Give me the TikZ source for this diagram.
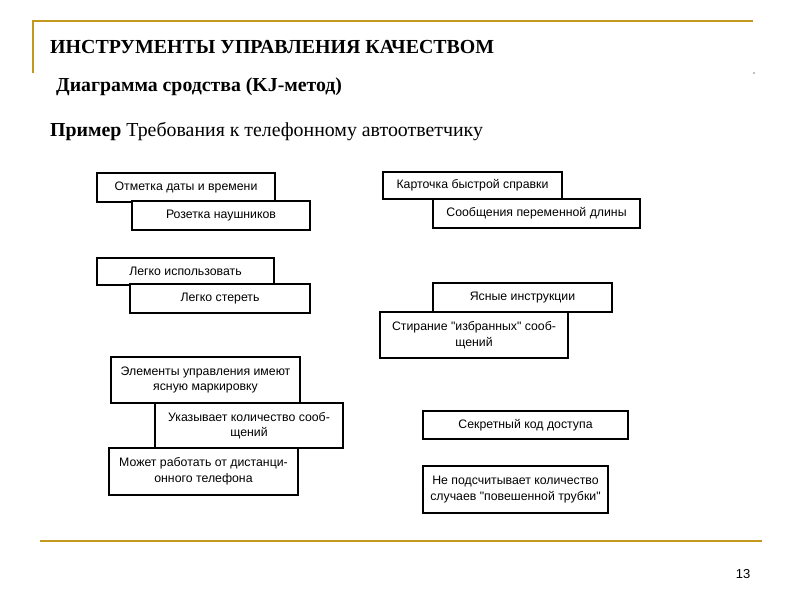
\documentclass[tikz,border=0pt]{standalone}
\usepackage{fontspec}
\setmainfont{Liberation Serif}
\newfontfamily\cardfont{Liberation Sans}
\usetikzlibrary{positioning}
\definecolor{gold}{RGB}{196,152,28}

\begin{document}
\begin{tikzpicture}[x=1pt,y=-1pt,
	card/.style={draw,line width=1.4pt,fill=white,inner sep=2pt,align=center,
		font=\cardfont\fontsize{12.3}{15.5}\selectfont},
	head/.style={anchor=base west,inner sep=0pt}]

	\useasboundingbox (0,0) rectangle (800,600);

	\draw[gold,line width=2pt] (753,21) -- (33,21) -- (33,73);
	\fill[gray] (754,73) circle (0.8);
	\draw[gold,line width=2pt] (40,541) -- (762,541);

	\node [head,font=\bfseries\fontsize{19.9}{22}\selectfont] (t1) at (50,53)
		{ИНСТРУМЕНТЫ УПРАВЛЕНИЯ КАЧЕСТВОМ};
	\node [head,font=\bfseries\fontsize{19.8}{22}\selectfont] (t2) at (56,91)
		{Диаграмма сродства (KJ-метод)};
	\node [head,font=\fontsize{19.85}{22}\selectfont] (t3) at (50,136)
		{\textbf{Пример} Требования к телефонному автоответчику};
	\node [font=\cardfont\fontsize{13}{15}\selectfont] (pg) at (743,574) {13};

	\node [card,minimum width=178,minimum height=29] (c1) at (186,187.5) {Отметка даты и времени};
	\node [card,minimum width=178,minimum height=29] (c2) at (221,215.5) {Розетка наушников};
	\node [card,minimum width=177,minimum height=27] (c3) at (185.5,271.5) {Легко использовать};
	\node [card,minimum width=180,minimum height=29] (c4) at (220,298.5) {Легко стереть};

	\node [card,minimum width=179,minimum height=27] (c5) at (472.5,185.5) {Карточка быстрой справки};
	\node [card,minimum width=207,minimum height=29] (c6) at (536.5,213.5) {Сообщения переменной длины};
	\node [card,minimum width=179,minimum height=29] (c7) at (522.5,297.5) {Ясные инструкции};
	\node [card,minimum width=188,minimum height=46] (c8) at (474,335) {Стирание "избранных" сооб-\\щений};

	\node [card,minimum width=189,minimum height=46] (c9) at (205.5,380) {Элементы управления имеют\\ясную маркировку};
	\node [card,minimum width=188,minimum height=45] (c10) at (249,425.5) {Указывает количество сооб-\\щений};
	\node [card,minimum width=189,minimum height=47] (c11) at (203.5,471.5) {Может работать от дистанци-\\онного телефона};

	\node [card,minimum width=205,minimum height=28] (c12) at (525.5,425) {Секретный код доступа};
	\node [card,minimum width=185,minimum height=47] (c13) at (515.5,489.5) {Не подсчитывает количество\\случаев "повешенной трубки"};
\end{tikzpicture}
\end{document}
